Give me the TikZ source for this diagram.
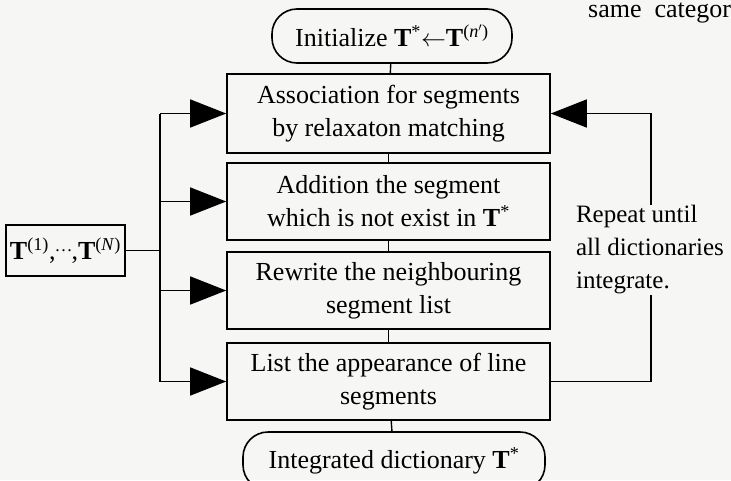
\documentclass[tikz,border=0pt]{standalone}
\usepackage{fontspec}
\setmainfont{Liberation Serif}
\usetikzlibrary{arrows.meta}
\definecolor{paper}{RGB}{246,246,244}
\begin{document}
\begin{tikzpicture}[x=1pt,y=-1pt,
  every node/.style={font=\fontsize{26}{33}\selectfont},
  box/.style={draw, line width=1.6pt, minimum width=323pt, inner sep=0pt, align=center},
  pill/.style={draw, line width=1.6pt, rounded corners=25pt, inner sep=0pt, align=center},
  link/.style={line width=1.4pt},
  arr/.style={line width=1.4pt, -{Triangle[length=36pt,width=28pt]}}]
\fill[paper] (0,0) rectangle (731,480);
\useasboundingbox (0,0) rectangle (731,480);

\node[pill, minimum width=240pt, minimum height=54pt] (init) at (392,36)
  {Initialize \textbf{T}\textsuperscript{*}$\leftarrow$\textbf{T}\textsuperscript{(\textit{n}$'$)}};
\node[box, minimum height=79pt] (assoc) at (388.5,113.5)
  {Association for segments\\by relaxaton matching};
\node[box, minimum height=77pt] (add) at (388.5,201.5)
  {Addition the segment\\which is not exist in \textbf{T}\textsuperscript{*}};
\node[box, minimum height=77pt] (rew) at (388.5,290.5)
  {Rewrite the neighbouring\\segment list};
\node[box, minimum height=77pt] (list) at (388.5,381.5)
  {List the appearance of line\\segments};
\node[pill, minimum width=302pt, minimum height=58pt] (integ) at (394,461)
  {Integrated dictionary \textbf{T}\textsuperscript{*}};
\node[draw, line width=1.6pt, minimum width=119pt, minimum height=51pt, inner sep=0pt] (tbox) at (65.5,250.5)
  {\textbf{T}\textsuperscript{(1)},\kern-1pt\raisebox{0.3em}{\fontsize{18}{20}\selectfont\textellipsis}\kern-1pt,\textbf{T}\textsuperscript{(\textit{N})}};

\coordinate (trunk) at (160,0);
\coordinate (rl) at (651,0);

\draw[link] (init) -- (assoc);
\draw[link] (assoc) -- (add);
\draw[link] (add) -- (rew);
\draw[link] (rew) -- (list);
\draw[link] (list) -- (integ);

\draw[link] (tbox.east) -- (tbox.east -| trunk);
\draw[link] (assoc.west -| trunk) -- (list.west -| trunk);
\draw[arr] (assoc.west -| trunk) -- (assoc.west);
\draw[arr] (add.west -| trunk) -- (add.west);
\draw[arr] (rew.west -| trunk) -- (rew.west);
\draw[arr] (list.west -| trunk) -- (list.west);

\draw[arr] (list.east) -- (list.east -| rl) -- (assoc.east -| rl) -- (assoc.east);

\node[fill=paper, inner sep=1pt, align=left, font=\fontsize{25}{33}\selectfont] (rep) at (650,250)
  {Repeat until\\all dictionaries\\integrate.};

\node[anchor=base west, inner sep=0pt, font=\fontsize{26}{30}\selectfont] (cat) at (588,17) {same\ \ categor};
\end{tikzpicture}
\end{document}
